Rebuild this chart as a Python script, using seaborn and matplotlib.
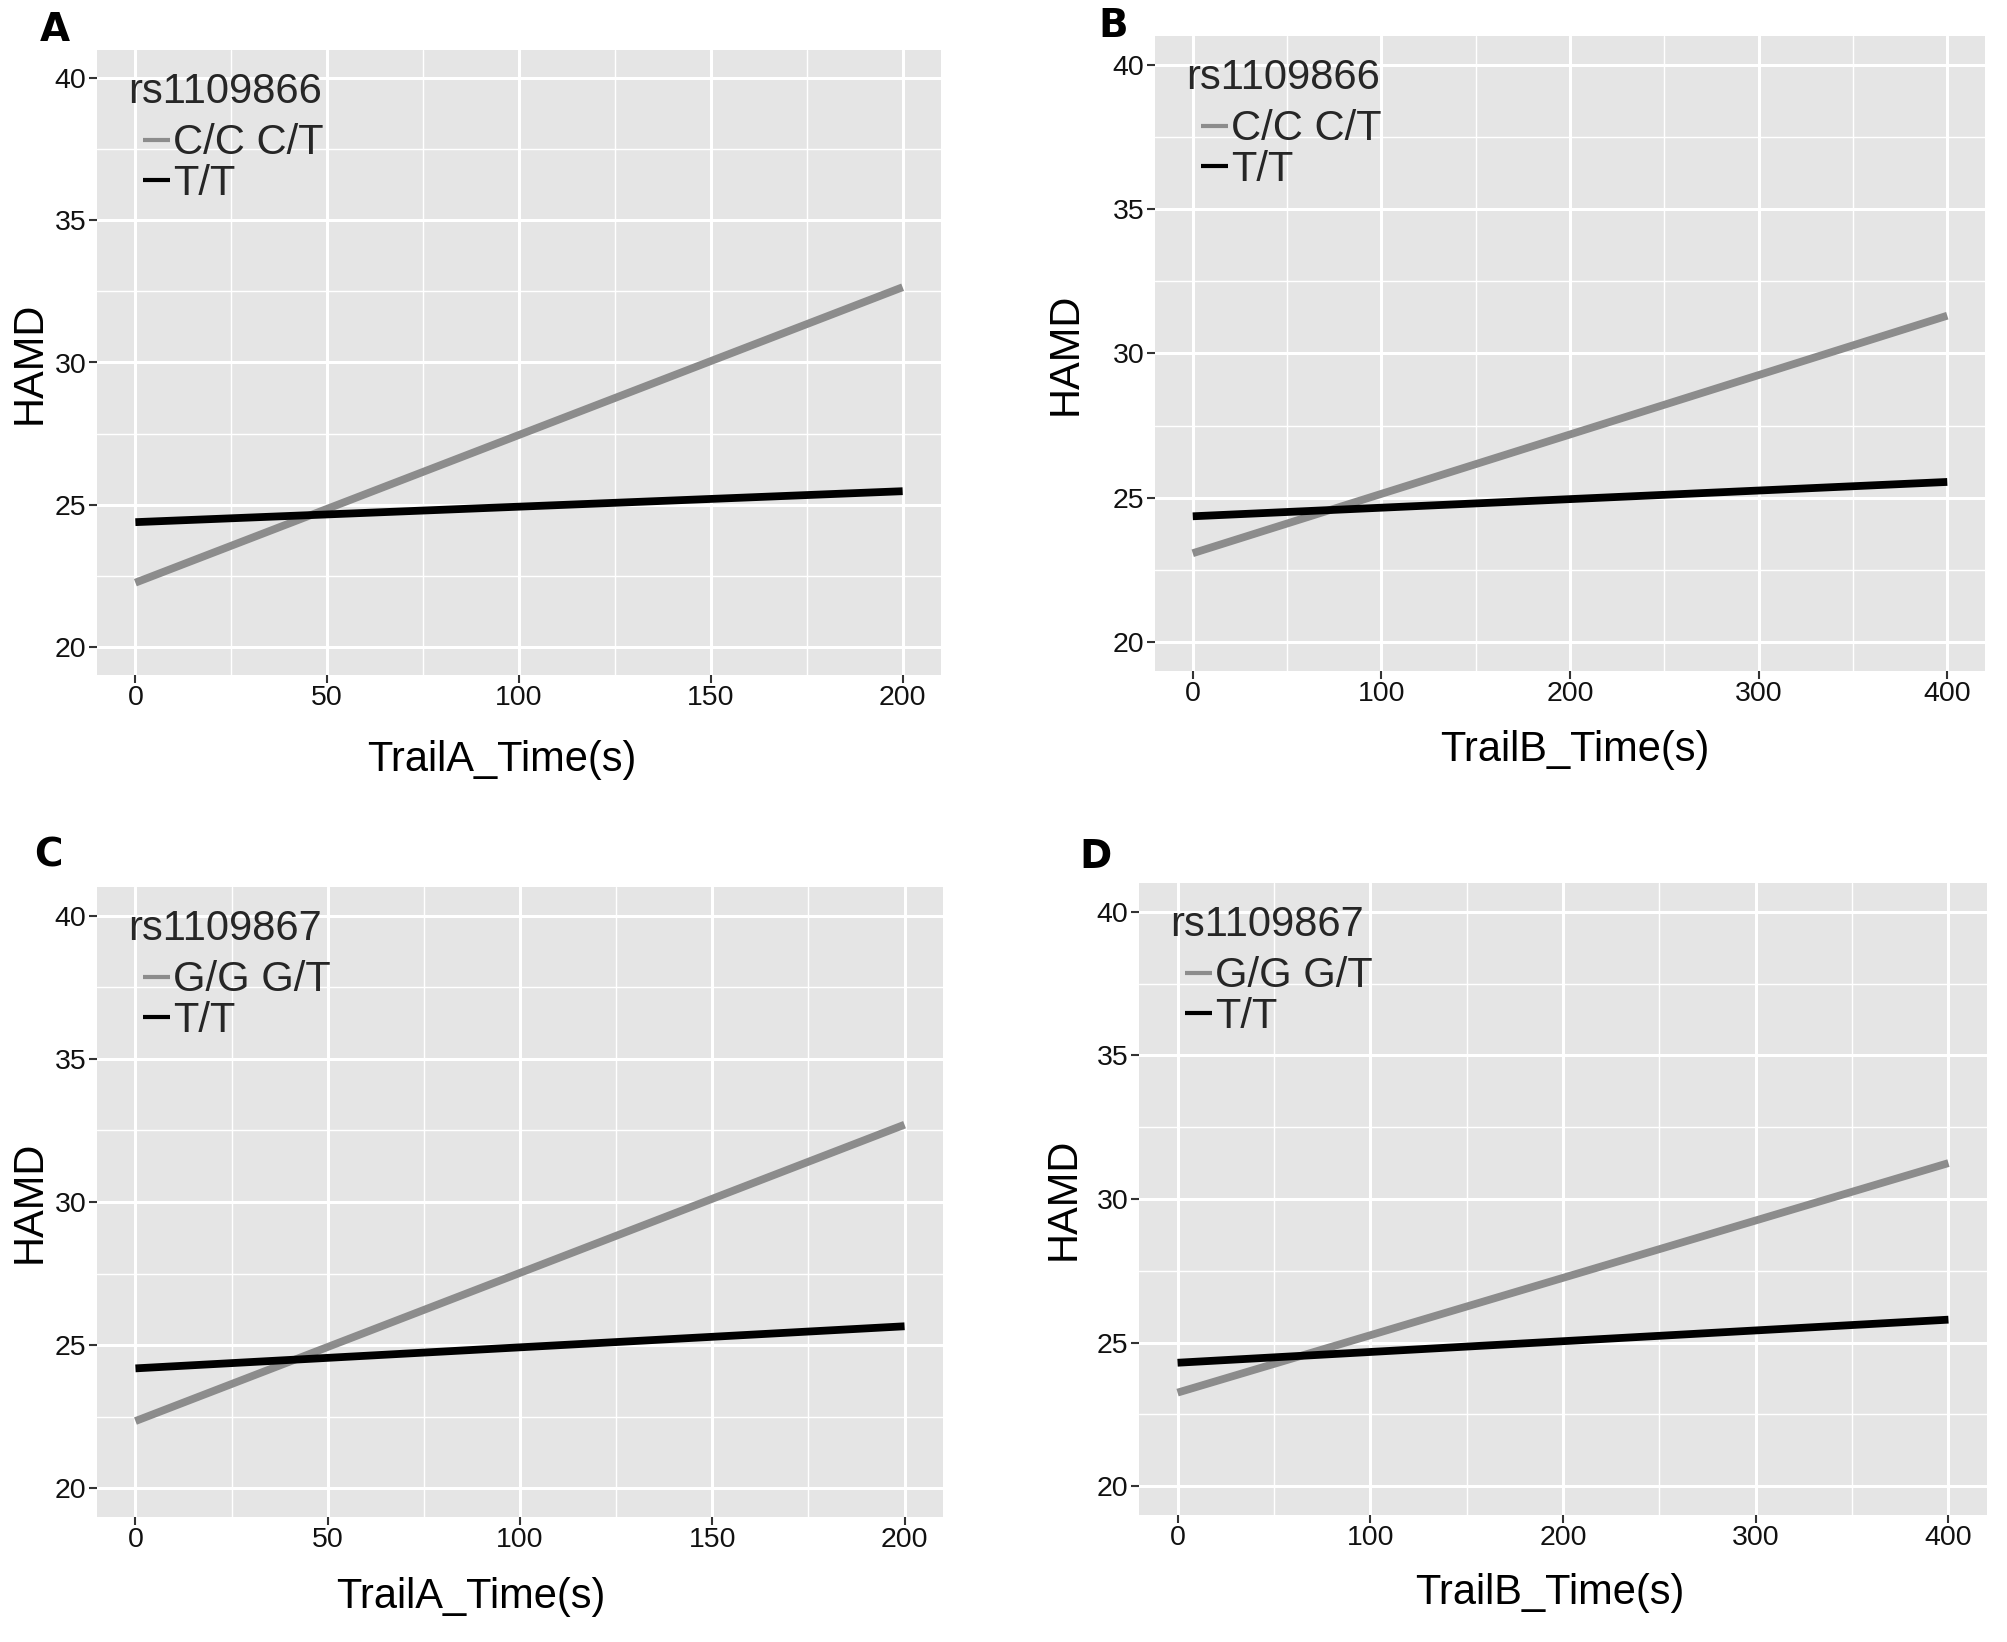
import numpy as np
import pandas as pd
import matplotlib
matplotlib.use("Agg")
import matplotlib.pyplot as plt
import seaborn as sns
from matplotlib.lines import Line2D
from matplotlib.legend_handler import HandlerLine2D
from matplotlib.ticker import MultipleLocator, FixedLocator

# ---------------- data ----------------
panel_letters = ["A", "B", "C", "D"]
snp_names = ["rs1109866", "rs1109866", "rs1109867", "rs1109867"]
carrier_groups = ["C/C C/T", "C/C C/T", "G/G G/T", "G/G G/T"]
tt_group = "T/T"
x_titles = ["TrailA_Time(s)", "TrailB_Time(s)", "TrailA_Time(s)", "TrailB_Time(s)"]
trail_a_time = [0, 200]
trail_b_time = [0, 400]
x_values = [trail_a_time, trail_b_time, trail_a_time, trail_b_time]
hamd_carrier = [[22.25, 32.65], [23.08, 31.31], [22.35, 32.70], [23.26, 31.25]]
hamd_tt = [[24.38, 25.47], [24.36, 25.55], [24.19, 25.66], [24.30, 25.80]]
x_ticks_a = [0, 50, 100, 150, 200]
x_ticks_b = [0, 100, 200, 300, 400]
x_ticks = [x_ticks_a, x_ticks_b, x_ticks_a, x_ticks_b]
y_ticks = [20, 25, 30, 35, 40]

# ---------------- layout (pixels) ----------------
W, H = 2008, 1642
axes_px = [(97, 50, 941, 675), (1155, 36, 1985, 671),
           (97, 887, 943, 1517), (1139, 883, 1987, 1515)]
letter_px = [(40, 11), (1098, 7), (34, 836), (1079, 838)]
ylabel_right_px = [50, 1086, 50, 1084]
xlabel_px = [(502, 740), (1575, 730), (471, 1577), (1550, 1573)]

GREY = "#8C8C8C"
PANEL_BG = "#E5E5E5"
TEXT_FONT = ["Liberation Sans", "DejaVu Sans"]

sns.set_theme(style="darkgrid", rc={"axes.facecolor": PANEL_BG,
                                    "grid.color": "white",
                                    "figure.facecolor": "white"})
plt.rcParams["font.family"] = TEXT_FONT


class IndentedLineHandler(HandlerLine2D):
    def get_xdata(self, legend, xdescent, ydescent, width, height, fontsize):
        xd = np.array([-xdescent + width * 0.36, -xdescent + width])
        return xd, xd


fig = plt.figure(figsize=(W / 100, H / 100), dpi=100)

for i in range(4):
    L, T, R, B = axes_px[i]
    ax = fig.add_axes([L / W, 1 - B / H, (R - L) / W, (B - T) / H])
    groups = [carrier_groups[i], tt_group]
    df = pd.DataFrame({
        "time": list(x_values[i]) * 2,
        "HAMD": list(hamd_carrier[i]) + list(hamd_tt[i]),
        "genotype": [groups[0]] * 2 + [groups[1]] * 2,
    })
    sns.lineplot(data=df, x="time", y="HAMD", hue="genotype",
                 hue_order=groups, palette=[GREY, "black"],
                 linewidth=5.6, legend=False, ax=ax, solid_capstyle="butt")

    xmax = x_values[i][1]
    pad = 0.05 * xmax
    ax.set_xlim(-pad, xmax + pad)
    ax.set_ylim(19, 41)
    ax.xaxis.set_major_locator(FixedLocator(x_ticks[i]))
    ax.yaxis.set_major_locator(FixedLocator(y_ticks))
    ax.xaxis.set_minor_locator(MultipleLocator(x_ticks[i][1] / 2))
    ax.yaxis.set_minor_locator(MultipleLocator(2.5))
    ax.grid(which="major", color="white", linewidth=2.2)
    ax.grid(which="minor", color="white", linewidth=1.0)
    ax.set_axisbelow(True)
    for s in ax.spines.values():
        s.set_visible(False)
    ax.tick_params(which="major", direction="out", length=5.5, width=1.5,
                   color="#333333", labelsize=20.5, labelcolor="#111111", pad=2,
                   bottom=True, left=True)
    ax.tick_params(which="minor", length=0)

    ax.set_xlabel(x_titles[i], fontsize=30, color="black")
    ax.set_ylabel("HAMD", fontsize=30, color="black")
    xl_x, xl_y = xlabel_px[i]
    ax.xaxis.set_label_coords((xl_x - L) / (R - L), (B - xl_y) / (B - T))
    ax.yaxis.set_label_coords((ylabel_right_px[i] - L) / (R - L), 0.5)

    handles = [Line2D([], [], color=GREY, linewidth=3.0, solid_capstyle="butt"),
               Line2D([], [], color="black", linewidth=3.0, solid_capstyle="butt")]
    leg = ax.legend(handles, groups, title=snp_names[i], loc="upper left",
                    bbox_to_anchor=(31 / (R - L), 1 - 22 / (B - T)),
                    frameon=False, fontsize=30, title_fontsize=30,
                    borderpad=0, borderaxespad=0, handlelength=1.0,
                    handletextpad=0.08, labelspacing=0.02,
                    handler_map={Line2D: IndentedLineHandler()})
    leg._legend_box.align = "left"
    leg._legend_box.sep = 8

    lx, ly = letter_px[i]
    fig.text(lx / W, 1 - ly / H, panel_letters[i], ha="left", va="top",
             fontsize=28, fontweight="bold", family=["DejaVu Sans"],
             color="black")

fig.savefig("out.png", dpi=100)
